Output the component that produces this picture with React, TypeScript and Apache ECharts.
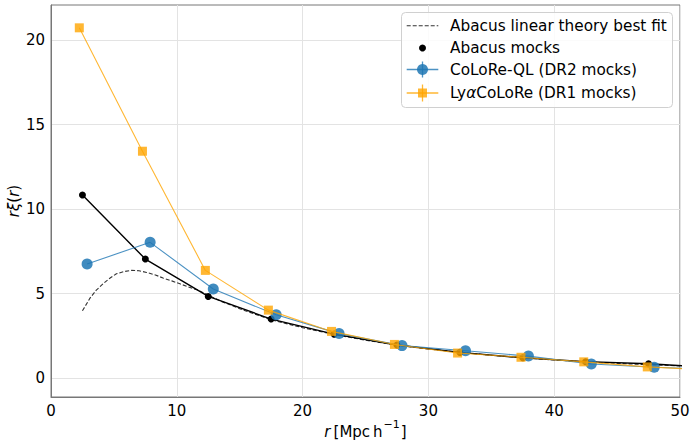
import React, { useEffect, useRef } from "react";
import * as echarts from "echarts";

// Abacus mocks
const rAbacus = [2.5, 7.5, 12.5, 17.5, 22.5, 27.5, 32.5, 37.5, 42.5, 47.5, 52.5];
const xiAbacus = [10.83, 7.04, 4.83, 3.49, 2.6, 1.96, 1.52, 1.2, 0.97, 0.85, 0.62];

// CoLoRe-QL (DR2 mocks)
const rQL = [2.87, 7.88, 12.9, 17.9, 22.9, 27.9, 32.95, 37.95, 42.95, 47.95, 52.95];
const xiQL = [6.75, 8.03, 5.27, 3.74, 2.63, 1.92, 1.62, 1.3, 0.83, 0.64, 0.5];

// LyaCoLoRe (DR1 mocks)
const rLya = [2.25, 7.27, 12.27, 17.28, 22.3, 27.3, 32.32, 37.36, 42.35, 47.4, 52.4];
const xiLya = [20.72, 13.42, 6.37, 4.02, 2.76, 1.99, 1.48, 1.23, 0.96, 0.66, 0.48];

// Abacus linear theory best fit
const rLin = [2.5, 3.1, 3.6, 4.2, 4.7, 5.2, 5.8, 6.4, 7.0, 7.6, 8.3, 8.9, 9.6, 10.3, 10.9, 11.6, 12.4, 13.5, 15, 17.5, 20, 22.5, 25, 27.5, 30, 32.5, 35, 37.5, 40, 42.5, 45, 47.5, 50];
const xiLin = [3.98, 4.73, 5.2, 5.62, 5.92, 6.17, 6.3, 6.37, 6.35, 6.25, 6.1, 5.92, 5.75, 5.56, 5.4, 5.22, 4.95, 4.55, 4.1, 3.45, 2.98, 2.58, 2.24, 1.95, 1.72, 1.52, 1.35, 1.2, 1.07, 0.96, 0.87, 0.79, 0.72];

const yTicks = [0, 5, 10, 15, 20];
const legendLabels = [
  "Abacus linear theory best fit",
  "Abacus mocks",
  "CoLoRe-QL (DR2 mocks)",
  "{n|Ly}{it|α}{n|CoLoRe (DR1 mocks)}",
];
const xName = "{it|r}{n|\u2009[Mpc\u2009h}{sup|−1}{n|]}";
const yName = "{it|rξ}{n|(}{it|r}{n|)}";

const FONT = "DejaVu Sans";
const BLUE = "#1f77b4";
const ORANGE = "#ffa500";

const pairs = (xs: number[], ys: number[]) => xs.map((x, i) => [x, ys[i]]);

export default function App() {
  const ref = useRef<HTMLDivElement>(null);
  useEffect(() => {
    if (!ref.current) return;
    const chart = echarts.init(ref.current, undefined, { renderer: "svg" });
    const lx1 = 406.7, lx2 = 438.3, lxc = 422.5, tx = 450;
    const rows = [25.7, 48, 69.5, 93];
    const richBase = {
      n: { fontFamily: FONT, fontSize: 15.3, fill: "#000" },
      it: { fontFamily: FONT, fontSize: 15.3, fontStyle: "italic", fill: "#000" },
    };
    const textStyle = (t: string, y: number) => ({
      type: "text",
      style: {
        text: t,
        x: tx,
        y,
        fill: "#000",
        fontFamily: FONT,
        fontSize: 15.3,
        verticalAlign: "middle",
        rich: richBase,
      },
      z: 101,
    });
    const option: any = {
      animation: false,
      grid: {
        left: 51,
        right: 15,
        top: 5,
        bottom: 48,
        containLabel: false,
        outerBoundsMode: "none",
        show: true,
        borderColor: "#777",
        borderWidth: 1,
        backgroundColor: "transparent",
      },
      xAxis: {
        type: "value",
        min: 0,
        max: 50,
        interval: 10,
        axisLine: { show: true, onZero: false, lineStyle: { color: "#777", width: 1 } },
        axisTick: { show: false },
        axisLabel: { fontFamily: FONT, fontSize: 15, color: "#000", margin: 6 },
        splitLine: { show: true, lineStyle: { color: "#e3e3e3", width: 1 } },
      },
      yAxis: {
        type: "value",
        min: -1.12,
        max: 22.07,
        axisLine: { show: true, onZero: false, lineStyle: { color: "#777", width: 1 } },
        axisTick: { show: false, customValues: yTicks },
        axisLabel: { fontFamily: FONT, fontSize: 15, color: "#000", margin: 6, customValues: yTicks },
        splitLine: { show: true, lineStyle: { color: "#e3e3e3", width: 1 } },
      },
      series: [
        {
          name: "Abacus linear theory best fit",
          type: "line",
          data: pairs(rLin, xiLin),
          symbol: "none",
          lineStyle: { color: "#333", width: 1.1, type: [4, 2] },
          z: 2,
        },
        {
          name: "Abacus mocks",
          type: "line",
          data: pairs(rAbacus, xiAbacus),
          symbol: "circle",
          symbolSize: 7,
          itemStyle: { color: "#000" },
          lineStyle: { color: "#000", width: 1.4 },
          z: 3,
        },
        {
          name: "CoLoRe-QL (DR2 mocks)",
          type: "line",
          data: pairs(rQL, xiQL),
          symbol: "circle",
          symbolSize: 11,
          itemStyle: { color: BLUE, opacity: 0.85 },
          lineStyle: { color: BLUE, width: 1.1, opacity: 0.8 },
          z: 4,
        },
        {
          name: "LyαCoLoRe (DR1 mocks)",
          type: "line",
          data: pairs(rLya, xiLya),
          symbol: "rect",
          symbolSize: 9,
          itemStyle: { color: ORANGE, opacity: 0.8 },
          lineStyle: { color: ORANGE, width: 1.1, opacity: 0.8 },
          z: 5,
        },
      ],
      graphic: [
        {
          type: "text",
          x: 365.5,
          y: 429,
          style: {
            text: xName,
            align: "center",
            verticalAlign: "middle",
            fontFamily: FONT,
            fontSize: 15,
            fill: "#000",
            rich: {
              it: { fontFamily: FONT, fontSize: 15, fontStyle: "italic", fill: "#000", lineHeight: 20, verticalAlign: "bottom" },
              n: { fontFamily: FONT, fontSize: 15, fill: "#000", lineHeight: 20, verticalAlign: "bottom" },
              sup: { fontFamily: FONT, fontSize: 11, fill: "#000", lineHeight: 20, verticalAlign: "top", padding: [0, 1, 0, 1] },
            },
          },
          z: 50,
        },
        {
          type: "text",
          x: 14,
          y: 201,
          rotation: Math.PI / 2,
          style: {
            text: yName,
            align: "center",
            verticalAlign: "middle",
            fontFamily: FONT,
            fontSize: 15,
            fill: "#000",
            rich: {
              it: { fontFamily: FONT, fontSize: 15, fontStyle: "italic", fill: "#000" },
              n: { fontFamily: FONT, fontSize: 15, fill: "#000" },
            },
          },
          z: 50,
        },
        {
          type: "rect",
          shape: { x: 401.5, y: 12.5, width: 271, height: 95, r: 4 },
          style: { fill: "rgba(255,255,255,0.85)", stroke: "#d0d0d0", lineWidth: 1 },
          z: 100,
        },
        {
          type: "line",
          shape: { x1: lx1, y1: rows[0], x2: lx2, y2: rows[0] },
          style: { stroke: "#333", lineWidth: 1.1, lineDash: [4, 2] },
          z: 101,
        },
        {
          type: "circle",
          shape: { cx: lxc, cy: rows[1], r: 3.5 },
          style: { fill: "#000" },
          z: 101,
        },
        {
          type: "line",
          shape: { x1: lx1, y1: rows[2], x2: lx2, y2: rows[2] },
          style: { stroke: BLUE, lineWidth: 1.3, opacity: 0.8 },
          z: 101,
        },
        {
          type: "line",
          shape: { x1: lxc, y1: rows[2] - 8, x2: lxc, y2: rows[2] + 8 },
          style: { stroke: BLUE, lineWidth: 1.3, opacity: 0.8 },
          z: 101,
        },
        {
          type: "circle",
          shape: { cx: lxc, cy: rows[2], r: 5.5 },
          style: { fill: BLUE, opacity: 0.85 },
          z: 102,
        },
        {
          type: "line",
          shape: { x1: lx1, y1: rows[3], x2: lx2, y2: rows[3] },
          style: { stroke: ORANGE, lineWidth: 1.3, opacity: 0.8 },
          z: 101,
        },
        {
          type: "line",
          shape: { x1: lxc, y1: rows[3] - 8.5, x2: lxc, y2: rows[3] + 8.5 },
          style: { stroke: ORANGE, lineWidth: 1.3, opacity: 0.8 },
          z: 101,
        },
        {
          type: "rect",
          shape: { x: lxc - 4.5, y: rows[3] - 4.5, width: 9, height: 9 },
          style: { fill: ORANGE, opacity: 0.8 },
          z: 102,
        },
        textStyle(legendLabels[0], rows[0]),
        textStyle(legendLabels[1], rows[1]),
        textStyle(legendLabels[2], rows[2]),
        textStyle(legendLabels[3], rows[3]),
      ],
    };
    chart.setOption(option);
    return () => chart.dispose();
  }, []);
  return (
    <div
      ref={ref}
      style={{ position: "fixed", left: 0, top: 0, width: 695, height: 445, background: "#fff" }}
    />
  );
}
